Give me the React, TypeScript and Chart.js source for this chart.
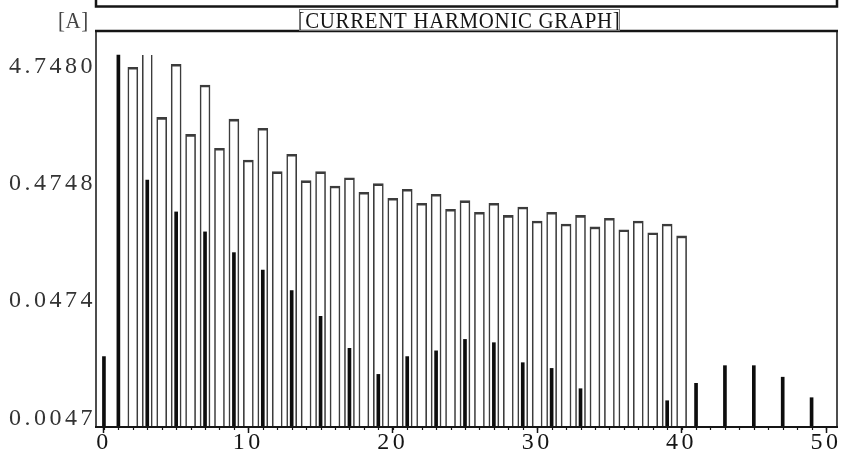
import { useEffect, useRef } from "react";
import { Chart, registerables } from "chart.js";

Chart.register(...registerables);

// Harmonic orders that have a limit value, and the limits in amperes
const LIMIT_ORDERS = [
  2, 3, 4, 5, 6, 7, 8, 9, 10, 11, 12, 13, 14, 15, 16, 17, 18, 19, 20, 21,
  22, 23, 24, 25, 26, 27, 28, 29, 30, 31, 32, 33, 34, 35, 36, 37, 38, 39, 40,
];
const LIMIT_VALUES = [
  4.72, 6.0, 1.76, 5.01, 1.26, 3.33, 0.959, 1.7, 0.762, 1.42, 0.605, 0.852,
  0.507, 0.605, 0.456, 0.537, 0.403, 0.478, 0.358, 0.428, 0.325, 0.388, 0.289,
  0.342, 0.272, 0.325, 0.256, 0.302, 0.229, 0.272, 0.216, 0.256, 0.204, 0.242,
  0.193, 0.229, 0.182, 0.216, 0.171,
];

// Measured current per harmonic order, in amperes
const CURRENT_ORDERS = [
  0, 1, 3, 5, 7, 9, 11, 13, 15, 17, 19, 21, 23, 25, 27, 29, 31, 33, 35, 37, 39,
  41, 43, 45, 47, 49,
];
const CURRENT_VALUES = [
  0.0159, 6.0, 0.514, 0.274, 0.185, 0.123, 0.0874, 0.0584, 0.0351, 0.0187,
  0.0112, 0.0159, 0.0178, 0.0223, 0.0209, 0.0141, 0.0126, 0.00845, null, null,
  0.00667, 0.0094, 0.0133, 0.0133, 0.0106, 0.00708,
];

const X_TICKS = [0, 10, 20, 30, 40, 50];
const Y_TICK_VALUES = [4.748, 0.4748, 0.0474, 0.0047];
const Y_TICK_LABELS = ["4.7480", "0.4748", "0.0474", "0.0047"];

const TITLE = "[CURRENT HARMONIC GRAPH]";
const UNIT = "[A]";

// Values at the top of the range are drawn open-topped (over range)
const OVER_RANGE = 6.0;

const FONT = "'Liberation Serif', serif";
const INK = "#151515";

// narrow text drawn straight onto the canvas
function condensedText(ctx: any, text: string, x: number, y: number, align: string, squeeze: number) {
  ctx.save();
  ctx.translate(x, y);
  ctx.scale(squeeze, 1);
  ctx.textAlign = align;
  ctx.fillText(text, 0, 0);
  const w = ctx.measureText(text).width * squeeze;
  ctx.restore();
  return w;
}

const framePlugin = {
  id: "frame",
  beforeDraw(chart: any) {
    const { ctx, width, height } = chart;
    ctx.save();
    ctx.fillStyle = "#fff";
    ctx.fillRect(0, 0, width, height);
    ctx.restore();
    ctx.letterSpacing = "3.5px";
  },
  afterDraw(chart: any) {
    const { ctx, chartArea: a, scales } = chart;
    const x = scales.x;
    ctx.save();
    ctx.strokeStyle = INK;
    ctx.lineCap = "butt";

    // plot frame
    ctx.lineWidth = 2.5;
    ctx.beginPath();
    ctx.moveTo(a.left - 1, a.top);
    ctx.lineTo(a.right + 1, a.top);
    ctx.stroke();
    ctx.lineWidth = 2;
    ctx.beginPath();
    ctx.moveTo(a.left - 1, a.bottom);
    ctx.lineTo(a.right + 1, a.bottom);
    ctx.stroke();
    ctx.lineWidth = 1.5;
    ctx.beginPath();
    ctx.moveTo(a.left, a.top);
    ctx.lineTo(a.left, a.bottom);
    ctx.moveTo(a.right, a.top);
    ctx.lineTo(a.right, a.bottom);
    ctx.stroke();

    // minor ticks, one per harmonic order
    ctx.lineWidth = 1.2;
    ctx.beginPath();
    for (let v = 0; v <= 50; v++) {
      const px = Math.round(x.getPixelForValue(v)) + 0.5;
      ctx.moveTo(px, a.bottom);
      ctx.lineTo(px, a.bottom + 3);
    }
    ctx.stroke();

    // edge of the panel above
    ctx.lineWidth = 2.5;
    ctx.beginPath();
    ctx.moveTo(a.left, 0);
    ctx.lineTo(a.left, 6.5);
    ctx.lineTo(a.right, 6.5);
    ctx.lineTo(a.right, 0);
    ctx.stroke();

    // title and unit
    ctx.letterSpacing = "0.8px";
    ctx.font = `24px ${FONT}`;
    ctx.fillStyle = INK;
    ctx.textBaseline = "alphabetic";
    const cx = 459;
    const w = condensedText(ctx, TITLE, cx, 28, "center", 0.87);
    ctx.lineWidth = 1;
    ctx.strokeStyle = "#777";
    ctx.strokeRect(Math.round(cx - w / 2) + 1.5, 9.5, Math.round(w) - 3, 21);
    ctx.fillStyle = "#444";
    condensedText(ctx, UNIT, 89, 28, "right", 0.87);
    ctx.restore();
  },
};

export default function App() {
  const ref = useRef<HTMLCanvasElement | null>(null);

  useEffect(() => {
    document.body.style.margin = "0";
    const canvas = ref.current;
    if (!canvas) return;

    const limitData = LIMIT_ORDERS.map((o, i) => ({ x: o, y: LIMIT_VALUES[i] }));
    const currentData = CURRENT_ORDERS.map((o, i) => ({ x: o, y: CURRENT_VALUES[i] }));

    const chart = new Chart(canvas, {
      type: "bar",
      data: {
        datasets: [
          {
            label: "Current",
            data: currentData as any,
            backgroundColor: "#0d0d0d",
            borderWidth: 0,
            barThickness: 3,
            grouped: false,
            order: 0,
          },
          {
            label: "Limit",
            data: limitData as any,
            backgroundColor: "#ffffff",
            borderColor: "#3c3c3c",
            borderSkipped: false,
            borderWidth: (c: any) =>
              c.raw && c.raw.y >= OVER_RANGE
                ? { top: 0, left: 1.6, right: 1.6, bottom: 0 }
                : { top: 2.6, left: 1.6, right: 1.6, bottom: 0 },
            barThickness: 10,
            grouped: false,
            order: 1,
          },
        ],
      },
      options: {
        responsive: false,
        animation: false,
        events: [],
        devicePixelRatio: 1,
        layout: { padding: { top: 31, right: 5, left: 0, bottom: 0 } },
        plugins: {
          legend: { display: false },
          tooltip: { enabled: false },
          title: { display: false },
        },
        scales: {
          x: {
            type: "linear",
            min: -0.55,
            max: 50.76,
            offset: false,
            afterBuildTicks: (s: any) => {
              s.ticks = X_TICKS.map((v) => ({ value: v }));
            },
            afterFit: (s: any) => {
              s.height = 48;
            },
            ticks: {
              autoSkip: false,
              maxRotation: 0,
              includeBounds: false,
              padding: -5,
              color: INK,
              font: { family: FONT, size: 24 },
            },
            grid: {
              drawOnChartArea: false,
              drawTicks: true,
              tickLength: 6,
              tickWidth: 1.5,
              tickColor: INK,
              offset: false,
            },
            border: { display: false },
          },
          y: {
            type: "logarithmic",
            min: 0.003978,
            max: 9.64,
            afterBuildTicks: (s: any) => {
              s.ticks = Y_TICK_VALUES.map((v) => ({ value: v }));
            },
            afterFit: (s: any) => {
              s.width = 96;
            },
            ticks: {
              autoSkip: false,
              padding: 0,
              color: "#333",
              font: { family: FONT, size: 24 },
              callback: (_v: any, i: number) => Y_TICK_LABELS[i],
            },
            grid: { display: false, drawTicks: false },
            border: { display: false },
          },
        },
      },
      plugins: [framePlugin],
    });

    return () => chart.destroy();
  }, []);

  return (
    <div style={{ width: 842, height: 475 }}>
      <canvas ref={ref} width={842} height={475} style={{ display: "block" }} />
    </div>
  );
}
